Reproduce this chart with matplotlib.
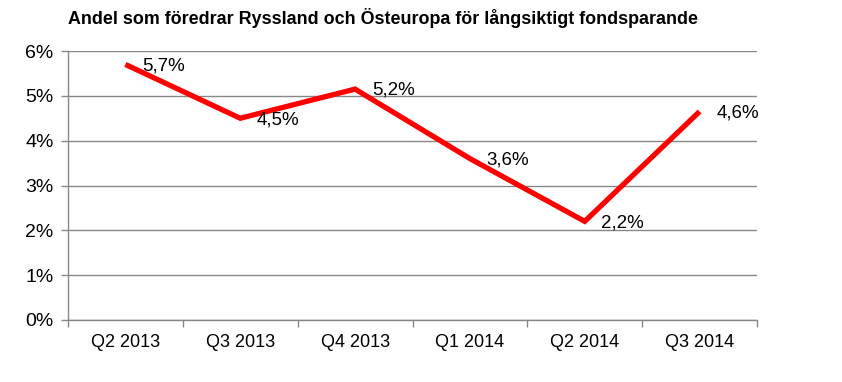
import numpy as np
import matplotlib.pyplot as plt
from matplotlib.ticker import FixedLocator

plt.rcParams['font.family'] = ['Liberation Sans', 'DejaVu Sans']

# data
quarters = ['Q2 2013', 'Q3 2013', 'Q4 2013', 'Q1 2014', 'Q2 2014', 'Q3 2014']
share = [5.7, 4.5, 5.15, 3.6, 2.2, 4.65]
share_labels = ['5,7%', '4,5%', '5,2%', '3,6%', '2,2%', '4,6%']
title = 'Andel som föredrar Ryssland och Östeuropa för långsiktigt fondsparande'

fig = plt.figure(figsize=(8.42, 3.82), dpi=100)
ax = fig.add_axes([68 / 842, 62 / 382, 689 / 842, 269 / 382])

x = np.arange(len(quarters))
ax.plot(x, share, color='#ff0000', lw=3.8, solid_capstyle='butt', solid_joinstyle='miter', zorder=3)

for xi, yi, lab in zip(x, share, share_labels):
    ax.annotate(lab, (xi, yi), xytext=(12, -1), textcoords='offset points',
                ha='left', va='center', fontsize=13.5, color='black', zorder=4)

ax.set_xlim(-0.5, len(quarters) - 0.5)
ax.set_ylim(0, 6)
ax.set_yticks(range(0, 7))
ax.set_yticklabels([f'{v}%' for v in range(0, 7)])
ax.set_xticks(x)
ax.set_xticklabels(quarters)
ax.xaxis.set_minor_locator(FixedLocator(np.arange(-0.5, len(quarters), 1)))
ax.tick_params(axis='x', which='major', length=0, pad=10, labelsize=13)
ax.tick_params(axis='x', which='minor', length=5, color='#888888', width=1)
ax.tick_params(axis='y', length=5, color='#888888', width=1, labelsize=14, pad=5.5)

ax.grid(axis='y', color='#888888', lw=1)
ax.set_axisbelow(True)
for s in ['top', 'right']:
    ax.spines[s].set_visible(False)
for s in ['left', 'bottom']:
    ax.spines[s].set_color('#888888')
    ax.spines[s].set_linewidth(1)

fig.text(68 / 842, 1 - 18 / 382, title, fontsize=12.9, fontweight='bold', ha='left', va='center')

fig.savefig('out.png', dpi=100)
